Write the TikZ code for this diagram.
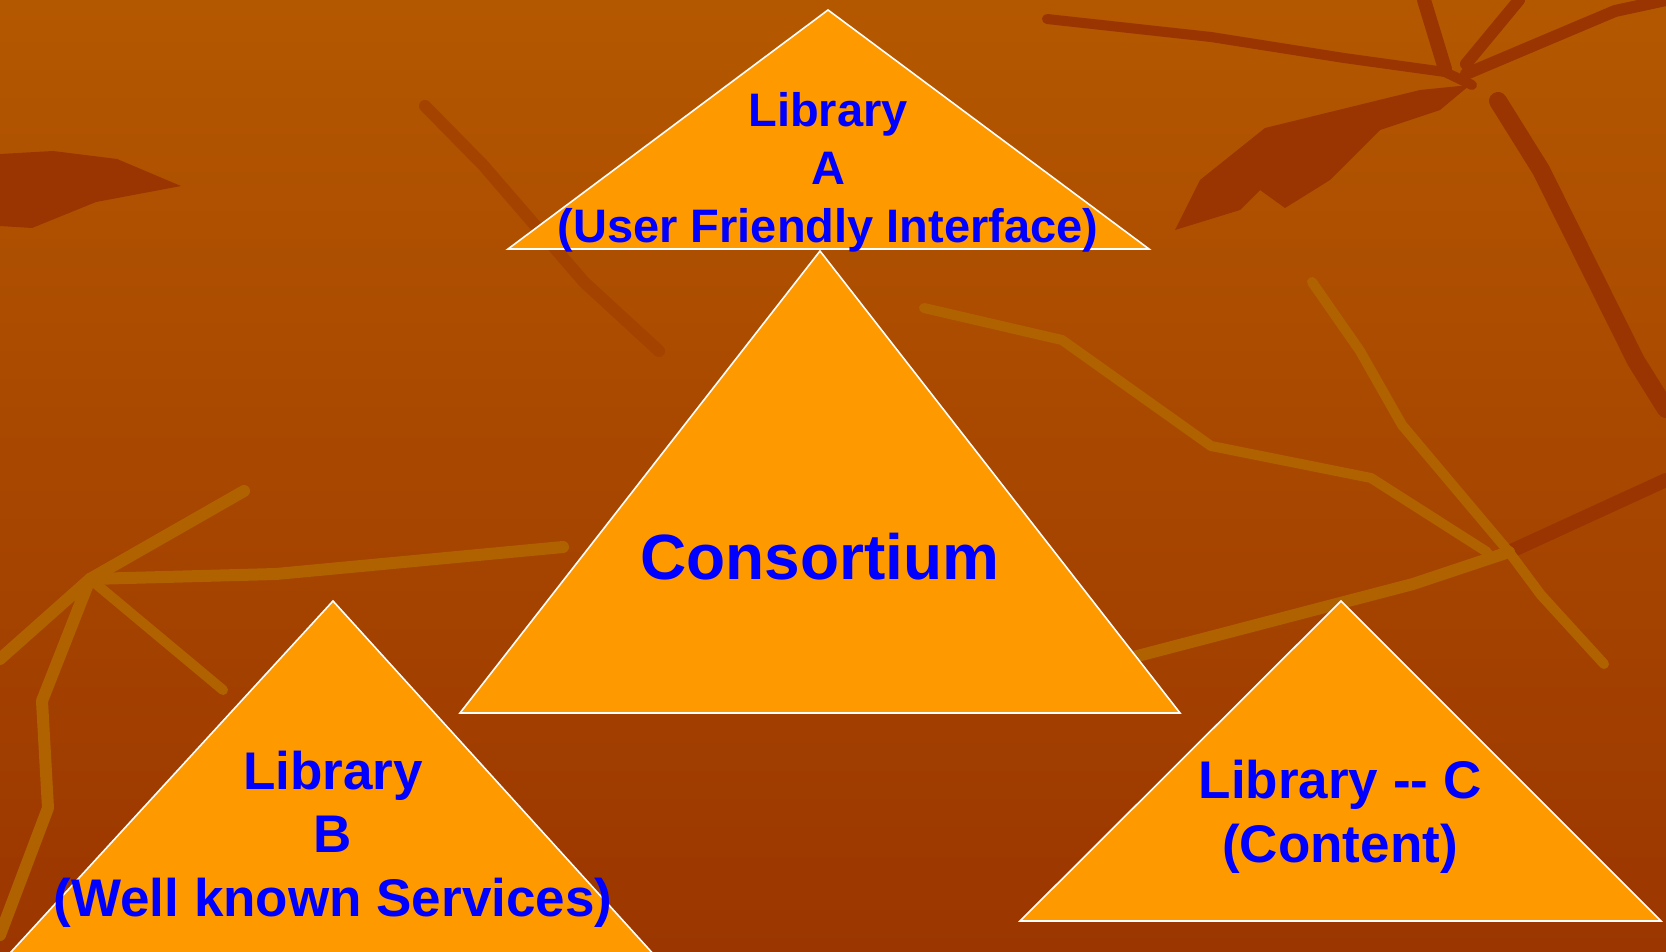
\documentclass[tikz,border=0pt]{standalone}
\usepackage{fontspec}
\setmainfont{Liberation Sans}
\definecolor{bgtop}{HTML}{B45800}
\definecolor{bgbot}{HTML}{9B3600}
\definecolor{twigdark}{HTML}{9A3400}
\definecolor{twiglight}{HTML}{B06200}
\definecolor{pyramid}{HTML}{FF9900}
\definecolor{labelblue}{HTML}{0000FF}
\begin{document}
\begin{tikzpicture}[x=0.5pt, y=-0.5pt,
	tri/.style={fill=pyramid, draw=white, line width=0.8pt},
	twig/.style={draw=twigdark, line width=#1, line join=round, line cap=round},
	gold/.style={draw=twiglight, line width=#1, line join=round, line cap=round},
	libtext/.style={text=labelblue, align=center, inner sep=0pt, font=\bfseries\fontsize{23.5}{29}\selectfont},
	libbig/.style={libtext, font=\bfseries\fontsize{26.5}{31.75}\selectfont},
	constext/.style={text=labelblue, inner sep=0pt, font=\bfseries\fontsize{32}{38}\selectfont}]
	\useasboundingbox (0,0) rectangle (1666,952);
	\clip (0,0) rectangle (1666,952);
	\shade[top color=bgtop, bottom color=bgbot] (0,0) rectangle (1666,952);

	\fill[twigdark] (0,154) -- (53,151) -- (117,159) -- (181,186) -- (96,202) -- (32,228) -- (0,226) -- cycle;
	\fill[twigdark] (1175,230) -- (1200,180) -- (1265,128) -- (1420,90) -- (1470,85) -- (1440,110) -- (1380,130) -- (1330,180) -- (1285,208) -- (1260,190) -- (1240,210) -- cycle;
	\draw[twig=9pt] (1498,101) -- (1541,170) -- (1636,361) -- (1666,409);
	\draw[twig=5pt] (1047,19) -- (1211,37) -- (1344,58) -- (1445,72) -- (1472,85);
	\draw[twig=7pt] (1424,0) -- (1445,69);
	\draw[twig=6pt] (1519,0) -- (1466,64);
	\draw[twig=6pt] (1466,74) -- (1615,11) -- (1666,0);
	\draw[twig=7pt] (1509,552) -- (1666,480);
	\draw[twig=6pt, draw=twigdark!60!bgtop] (425,106) -- (483,165) -- (584,282) -- (659,351);

	\draw[gold=6pt] (0,659) -- (90,579) -- (244,491);
	\draw[gold=6pt] (90,579) -- (276,574) -- (563,547);
	\draw[gold=6pt] (90,579) -- (42,701) -- (48,808) -- (0,935);
	\draw[gold=5pt] (90,579) -- (223,690);
	\draw[gold=5pt] (924,308) -- (1062,340) -- (1211,446) -- (1371,478) -- (1487,552);
	\draw[gold=5pt] (1312,282) -- (1360,351) -- (1402,425) -- (1509,552);
	\draw[gold=6pt] (1509,552) -- (1413,584) -- (1126,659);
	\draw[gold=5pt] (1509,552) -- (1541,595) -- (1604,664);

	\node[shape=coordinate] (A1) at (828,10) {};
	\node[shape=coordinate] (A2) at (508,249) {};
	\node[shape=coordinate] (A3) at (1149,249) {};
	\node[shape=coordinate] (K1) at (820,251) {};
	\node[shape=coordinate] (K2) at (460,713) {};
	\node[shape=coordinate] (K3) at (1180,713) {};
	\node[shape=coordinate] (B1) at (333,601) {};
	\node[shape=coordinate] (B2) at (-33,1000) {};
	\node[shape=coordinate] (B3) at (695,1000) {};
	\node[shape=coordinate] (C1) at (1341,601) {};
	\node[shape=coordinate] (C2) at (1020,921) {};
	\node[shape=coordinate] (C3) at (1661,921) {};

	\draw[tri] (A1) -- (A2) -- (A3) -- cycle;
	\draw[tri] (K1) -- (K2) -- (K3) -- cycle;
	\draw[tri] (B1) -- (B2) -- (B3) -- cycle;
	\draw[tri] (C1) -- (C2) -- (C3) -- cycle;

	\node[libtext] (LibA) at (828,172) {Library\\A\\(User Friendly Interface)};
	\node[constext] (Cons) at (820,557) {Consortium};
	\node[libbig] (LibB) at (333,839) {Library\\B\\(Well known Services)};
	\node[libbig] (LibC) at (1340,817) {Library -{}- C\\(Content)};
\end{tikzpicture}
\end{document}
